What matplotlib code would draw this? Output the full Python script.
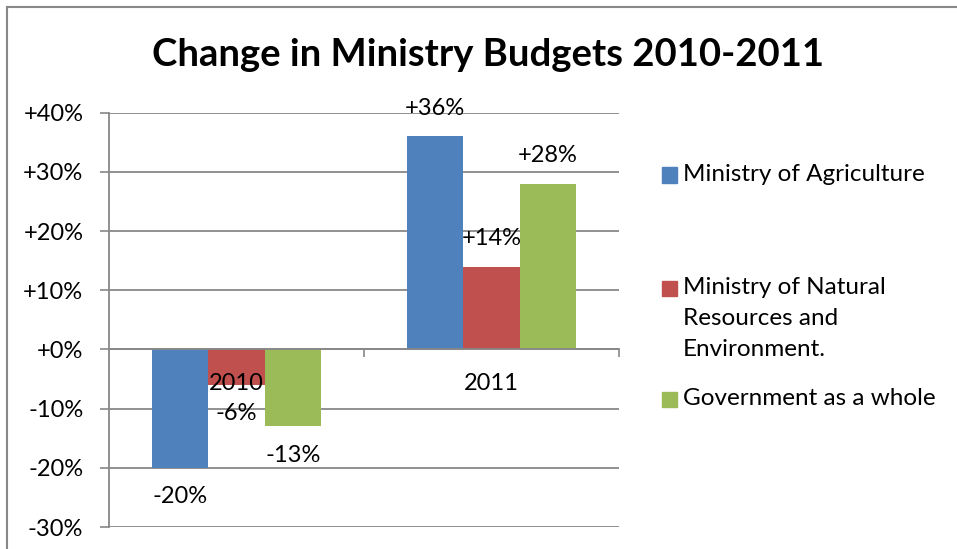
import matplotlib.pyplot as plt
from matplotlib.patches import Rectangle
from matplotlib.lines import Line2D
import numpy as np

# budget change by year, percent
years = ['2010', '2011']
agriculture = [-20, 36]
natural_resources = [-6, 14]
government = [-13, 28]
series_names = ['Ministry of Agriculture',
                'Ministry of Natural\nResources and\nEnvironment.',
                'Government as a whole']
colors = ['#4F81BD', '#C0504D', '#9BBB59']
yticks = [-30, -20, -10, 0, 10, 20, 30, 40]

plt.rcParams['font.family'] = ['Lato', 'DejaVu Sans']
grid_color = '#888888'
fs = 17

fig = plt.figure(figsize=(9.57, 5.49), dpi=100)
ax = fig.add_axes([109 / 957, 1 - 527 / 549, 510 / 957, (527 - 112.7) / 549])

x = np.arange(len(years))
width = 0.222
all_series = [agriculture, natural_resources, government]
for i, vals in enumerate(all_series):
    bars = ax.bar(x + (i - 1) * width, vals, width, color=colors[i], zorder=2)
    for b, v in zip(bars, vals):
        label = '+%d%%' % v if v >= 0 else '%d%%' % v
        off = 28 if v >= 0 else -29
        ax.annotate(label, (b.get_x() + b.get_width() / 2, v),
                    xytext=(0, off), textcoords='offset pixels',
                    ha='center', va='center', fontsize=fs, zorder=4)

ax.set_xlim(-0.5, 1.5)
ax.set_ylim(-30, 40)
ax.set_yticks(yticks)
ax.set_yticklabels(['+%d%%' % t if t >= 0 else '%d%%' % t for t in yticks], fontsize=fs)
ax.tick_params(axis='y', length=6.5, width=1.2, color=grid_color, pad=12)
ax.yaxis.grid(True, color=grid_color, linewidth=1.3, zorder=0)
ax.set_axisbelow(True)

# category axis sits on the zero line
ax.spines['bottom'].set_position(('data', 0))
ax.spines['bottom'].set_color(grid_color)
ax.spines['bottom'].set_linewidth(1.3)
ax.spines['left'].set_color(grid_color)
ax.spines['left'].set_linewidth(1.3)
ax.spines['top'].set_visible(False)
ax.spines['right'].set_visible(False)
ax.set_xticks([0.5, 1.5])
ax.set_xticklabels([])
ax.tick_params(axis='x', length=6, width=1.2, color=grid_color)
for xi, yr in zip(x, years):
    ax.annotate(yr, (xi, 0), xytext=(0, -34), textcoords='offset pixels',
                ha='center', va='center', fontsize=fs, zorder=4)

fig.suptitle('Change in Ministry Budgets 2010-2011', x=488 / 957, y=1 - 55 / 549,
             va='center', fontsize=27.5, fontweight='bold')

# legend
legend_y = [175, 288, 399]
for name, c, ly in zip(series_names, colors, legend_y):
    fig.patches.append(Rectangle((662 / 957, 1 - (ly + 7.5) / 549), 15 / 957, 15 / 549,
                                 transform=fig.transFigure, color=c, figure=fig))
    fig.text(683 / 957, 1 - (ly - 11) / 549, name, ha='left', va='top',
             fontsize=fs + 0.5, linespacing=1.6)

# chart border
fig.lines.append(Line2D([7 / 957, 7 / 957], [0, 1 - 7 / 549], transform=fig.transFigure,
                        color=grid_color, linewidth=1.5))
fig.lines.append(Line2D([7 / 957, 1], [1 - 7 / 549, 1 - 7 / 549], transform=fig.transFigure,
                        color=grid_color, linewidth=1.5))

fig.savefig('out.png', dpi=100)
